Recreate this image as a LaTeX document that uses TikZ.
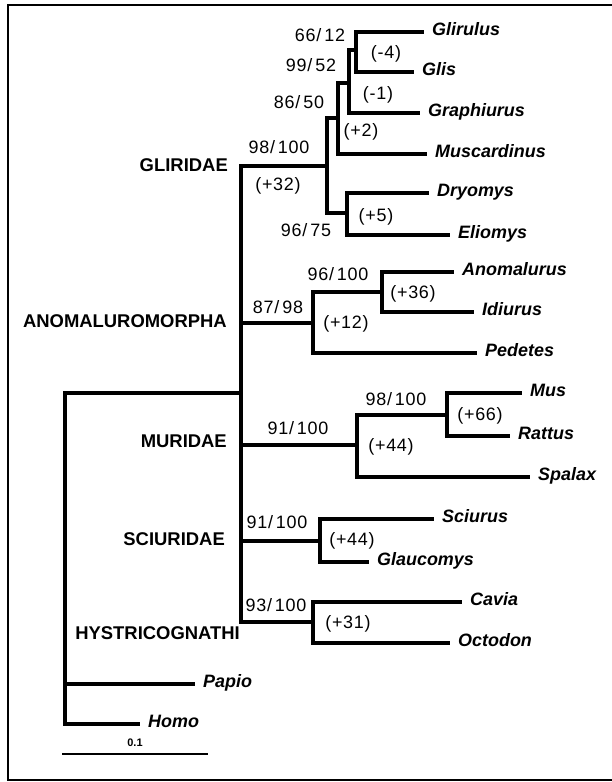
\documentclass[tikz,border=0pt]{standalone}
\usepackage{fontspec}
\setmainfont{Liberation Sans}
\newfontfamily\chiffres[LetterSpace=4]{Liberation Sans}
\begin{document}
\begin{tikzpicture}[
    x=1bp, y=-1bp,
    branche/.style={line width=3.2bp, line cap=rect, line join=miter},
    cadre/.style={line width=1.6bp},
    taxon/.style={anchor=west, inner xsep=10bp, inner ysep=0pt, text height=1.6ex, text depth=.3ex,
                  font=\fontsize{18}{21}\selectfont\bfseries\itshape},
    clade/.style={anchor=east, inner sep=0pt, text height=1.6ex, text depth=0pt,
                  font=\fontsize{18.5}{21}\selectfont\bfseries},
    appui/.style={inner sep=0pt, text height=1.6ex, text depth=.3ex,
                  font=\chiffres\fontsize{18}{21}\selectfont}
]
    \useasboundingbox (0,0) rectangle (612,782);
    \draw[cadre] (612,5) -- (8,5) -- (8,780) -- (612,780);

    % noeuds internes
    \coordinate (r)  at (65,684);
    \coordinate (i)  at (241,393);
    \coordinate (g1) at (327,166);
    \coordinate (g2) at (338,118);
    \coordinate (g3) at (349,83);
    \coordinate (g4) at (356,50);
    \coordinate (g5) at (347,213);
    \coordinate (a1) at (313,323);
    \coordinate (a2) at (382,292);
    \coordinate (m1) at (357,445);
    \coordinate (m2) at (447,415);
    \coordinate (s1) at (320,541);
    \coordinate (h1) at (313,622);

    % taxons
    \node[taxon] (glirulus)    at (422,32)  {Glirulus};
    \node[taxon] (glis)        at (412,72)  {Glis};
    \node[taxon] (graphiurus)  at (418,113) {Graphiurus};
    \node[taxon] (muscardinus) at (425,154) {Muscardinus};
    \node[taxon] (dryomys)     at (427,193) {Dryomys};
    \node[taxon] (eliomys)     at (448,235) {Eliomys};
    \node[taxon] (anomalurus)  at (452,272) {Anomalurus};
    \node[taxon] (idiurus)     at (472,312) {Idiurus};
    \node[taxon] (pedetes)     at (475,353) {Pedetes};
    \node[taxon] (mus)         at (520,393) {Mus};
    \node[taxon] (rattus)      at (508,436) {Rattus};
    \node[taxon] (spalax)      at (528,477) {Spalax};
    \node[taxon] (sciurus)     at (432,519) {Sciurus};
    \node[taxon] (glaucomys)   at (367,562) {Glaucomys};
    \node[taxon] (cavia)       at (460,602) {Cavia};
    \node[taxon] (octodon)     at (448,643) {Octodon};
    \node[taxon] (papio)       at (193,684) {Papio};
    \node[taxon] (homo)        at (138,724) {Homo};

    % branches
    \draw[branche] (glirulus.west) -| (g4) |- (glis.west);
    \draw[branche] (g4) -| (g3) |- (graphiurus.west);
    \draw[branche] (g3) -| (g2) |- (muscardinus.west);
    \draw[branche] (dryomys.west) -| (g5) |- (eliomys.west);
    \draw[branche] (g2) -| (g1) |- (g5);
    \draw[branche] (anomalurus.west) -| (a2) |- (idiurus.west);
    \draw[branche] (a2) -| (a1) |- (pedetes.west);
    \draw[branche] (mus.west) -| (m2) |- (rattus.west);
    \draw[branche] (m2) -| (m1) |- (spalax.west);
    \draw[branche] (sciurus.west) -| (s1) |- (glaucomys.west);
    \draw[branche] (cavia.west) -| (h1) |- (octodon.west);
    \draw[branche] (g1) -| (i) |- (h1);
    \draw[branche] (a1) -- (a1 -| i);
    \draw[branche] (m1) -- (m1 -| i);
    \draw[branche] (s1) -- (s1 -| i);
    \draw[branche] (i) -| (r) |- (homo.west);
    \draw[branche] (r) -- (papio.west);

    % groupes
    \node[clade] (gliridae) at (228,167) {GLIRIDAE};
    \node[clade] (anomal)   at (227,323) {ANOMALUROMORPHA};
    \node[clade] (muridae)  at (227,443) {MURIDAE};
    \node[clade] (sciur)    at (225,541) {SCIURIDAE};
    \node[clade] (hystrico) at (240,635) {HYSTRICOGNATHI};

    % valeurs d'appui
    \node[appui] at (320,38)  {66/\,12};
    \node[appui] at (311,68)  {99/\,52};
    \node[appui] at (299,105) {86/\,50};
    \node[appui] at (279,150) {98/\,100};
    \node[appui] at (278,187) {(+32)};
    \node[appui] at (386,55)  {(-4)};
    \node[appui] at (378,96)  {(-1)};
    \node[appui] at (361,133) {(+2)};
    \node[appui] at (376,218) {(+5)};
    \node[appui] at (306,233) {96/\,75};
    \node[appui] at (338,277) {96/\,100};
    \node[appui] at (413,295) {(+36)};
    \node[appui] at (278,310) {87/\,98};
    \node[appui] at (346,325) {(+12)};
    \node[appui] at (396,402) {98/\,100};
    \node[appui] at (480,417) {(+66)};
    \node[appui] at (298,431) {91/\,100};
    \node[appui] at (391,448) {(+44)};
    \node[appui] at (277,525) {91/\,100};
    \node[appui] at (352,542) {(+44)};
    \node[appui] at (276,608) {93/\,100};
    \node[appui] at (348,625) {(+31)};

    % echelle
    \coordinate (e1) at (62,754);
    \coordinate (e2) at (208,754);
    \draw[line width=1.8bp] (e1) -- (e2) node[midway, above=3bp, font=\fontsize{11}{12}\selectfont\bfseries] {0.1};
\end{tikzpicture}
\end{document}
